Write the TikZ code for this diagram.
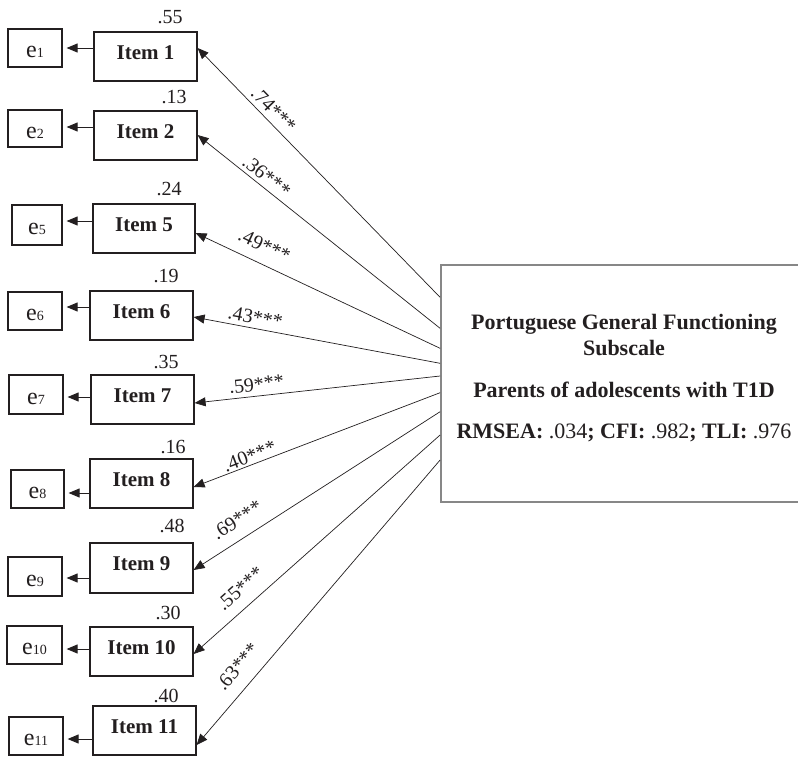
\documentclass[tikz,border=0pt]{standalone}
\usepackage{fontspec}
\setmainfont{Liberation Serif}
\usetikzlibrary{arrows.meta}
\definecolor{ink}{RGB}{35,31,32}
\definecolor{fgray}{RGB}{135,135,135}
\begin{document}
\begin{tikzpicture}[x=1pt,y=-1pt,
  item/.style={draw=ink, line width=1.2pt, rectangle, inner sep=0pt,
    minimum width=103pt, minimum height=49pt,
    font=\fontsize{21}{21}\selectfont\bfseries, text=ink,
    text height=14pt, text depth=9pt},
  err/.style={draw=ink, line width=1.2pt, rectangle, inner sep=0pt,
    minimum width=54pt, minimum height=38pt,
    font=\fontsize{24}{24}\selectfont, text=ink,
    text height=19pt, text depth=0pt},
  rsq/.style={font=\fontsize{20}{20}\selectfont, text=ink, anchor=base, inner sep=0pt},
  load/.style={draw=ink, line width=0.7pt, -{Triangle[length=11pt,width=9pt]}},
  res/.style={draw=ink, line width=0.9pt, -{Triangle[length=11pt,width=9pt]}, shorten >=4pt},
  lbl/.style={font=\fontsize{20}{20}\selectfont, text=ink, inner sep=0pt, sloped},
  ttl/.style={font=\fontsize{22}{22}\selectfont\bfseries, text=ink, anchor=base, inner sep=0pt},
  bigbox/.style={draw=fgray, line width=1.8pt, rectangle, inner sep=0pt,
    minimum width=366pt, minimum height=237pt}
]
\useasboundingbox (0,0) rectangle (798,756);
\fill[white] (0,0) rectangle (798,756);

% factor box
\node[bigbox] (F) at (624,383.5) {};
\node[ttl] (t1) at (624,329) {Portuguese General Functioning};
\node[ttl] (t2) at (624,355) {Subscale};
\node[ttl] (t3) at (624,397) {Parents of adolescents with T1D};
\node[ttl] (t4) at (624,438) {RMSEA: {\mdseries .034}; CFI: {\mdseries .982}; TLI: {\mdseries .976}};

% items
\node[item] (i1) at (145.5,56.5) {Item 1};
\node[item] (i2) at (145.5,135.5) {Item 2};
\node[item, minimum width=102pt] (i5) at (144,228.5) {Item 5};
\node[item] (i6) at (141.5,315.5) {Item 6};
\node[item] (i7) at (142.5,399.5) {Item 7};
\node[item] (i8) at (141.5,483.5) {Item 8};
\node[item, minimum height=50pt] (i9) at (141.5,568) {Item 9};
\node[item] (i10) at (141.5,651.5) {Item 10};
\node[item] (i11) at (144.5,730.5) {Item 11};

% errors
\newcommand{\sbs}[1]{{\fontsize{14}{14}\selectfont #1}}
\node[err] (e1) at (35,48) {e\sbs{1}};
\node[err, minimum height=37pt] (e2) at (35,128.5) {e\sbs{2}};
\node[err, minimum width=50pt, minimum height=40pt] (e5) at (37,225) {e\sbs{5}};
\node[err] (e6) at (35,311) {e\sbs{6}};
\node[err, minimum height=39pt] (e7) at (36,394.5) {e\sbs{7}};
\node[err, minimum width=53pt] (e8) at (37.5,489) {e\sbs{8}};
\node[err, minimum height=39pt] (e9) at (35,576.5) {e\sbs{9}};
\node[err, minimum width=55pt] (e10) at (34.5,645) {e\sbs{10}};
\node[err] (e11) at (36,736) {e\sbs{11}};

% R squared
\node[rsq] (r1) at (170,23) {.55};
\node[rsq] (r2) at (174,103) {.13};
\node[rsq] (r5) at (169,195) {.24};
\node[rsq] (r6) at (166,282) {.19};
\node[rsq] (r7) at (166,368) {.35};
\node[rsq] (r8) at (173,453) {.16};
\node[rsq] (r9) at (172,532) {.48};
\node[rsq] (r10) at (168,619) {.30};
\node[rsq] (r11) at (166,702) {.40};

% residual arrows
\draw[res] (i1.west |- 0,48) -- (e1.east |- 0,48);
\draw[res] (i2.west |- 0,127) -- (e2.east |- 0,127);
\draw[res] (i5.west |- 0,221) -- (e5.east |- 0,221);
\draw[res] (i6.west |- 0,307) -- (e6.east |- 0,307);
\draw[res] (i7.west |- 0,397) -- (e7.east |- 0,397);
\draw[res] (i8.west |- 0,493) -- (e8.east |- 0,493);
\draw[res] (i9.west |- 0,578) -- (e9.east |- 0,578);
\draw[res] (i10.west |- 0,649) -- (e10.east |- 0,649);
\draw[res] (i11.west |- 0,739) -- (e11.east |- 0,739);

% loadings
\draw[load] (F.west |- 0,297.3) -- (i1.east |- 0,48) node[lbl,pos=0.72,above=4.3pt] {.74***};
\draw[load] (F.west |- 0,328.3) -- (i2.east |- 0,135) node[lbl,pos=0.743,above=3.8pt] {.36***};
\draw[load] (F.west |- 0,348.3) -- (i5.east |- 0,233) node[lbl,pos=0.75,above=10.9pt] {.49***};
\draw[load] (F.west |- 0,363.3) -- (i6.east |- 0,317) node[lbl,pos=0.758,above=4pt] {.43***};
\draw[load] (F.west |- 0,376) -- (i7.east |- 0,403) node[lbl,pos=0.743,above=4.7pt] {.59***};
\draw[load] (F.west |- 0,392.7) -- (i8.east |- 0,487) node[lbl,pos=0.76,above=1.7pt] {.40***};
\draw[load] (F.west |- 0,411.7) -- (i9.east |- 0,570) node[lbl,pos=0.783,above=11.5pt] {.69***};
\draw[load] (F.west |- 0,435) -- (i10.east |- 0,654) node[lbl,pos=0.763,above=10.8pt] {.55***};
\draw[load] (F.west |- 0,460) -- (i11.east |- 0,745) node[lbl,pos=0.771,above=12.7pt] {.63***};
\end{tikzpicture}
\end{document}
